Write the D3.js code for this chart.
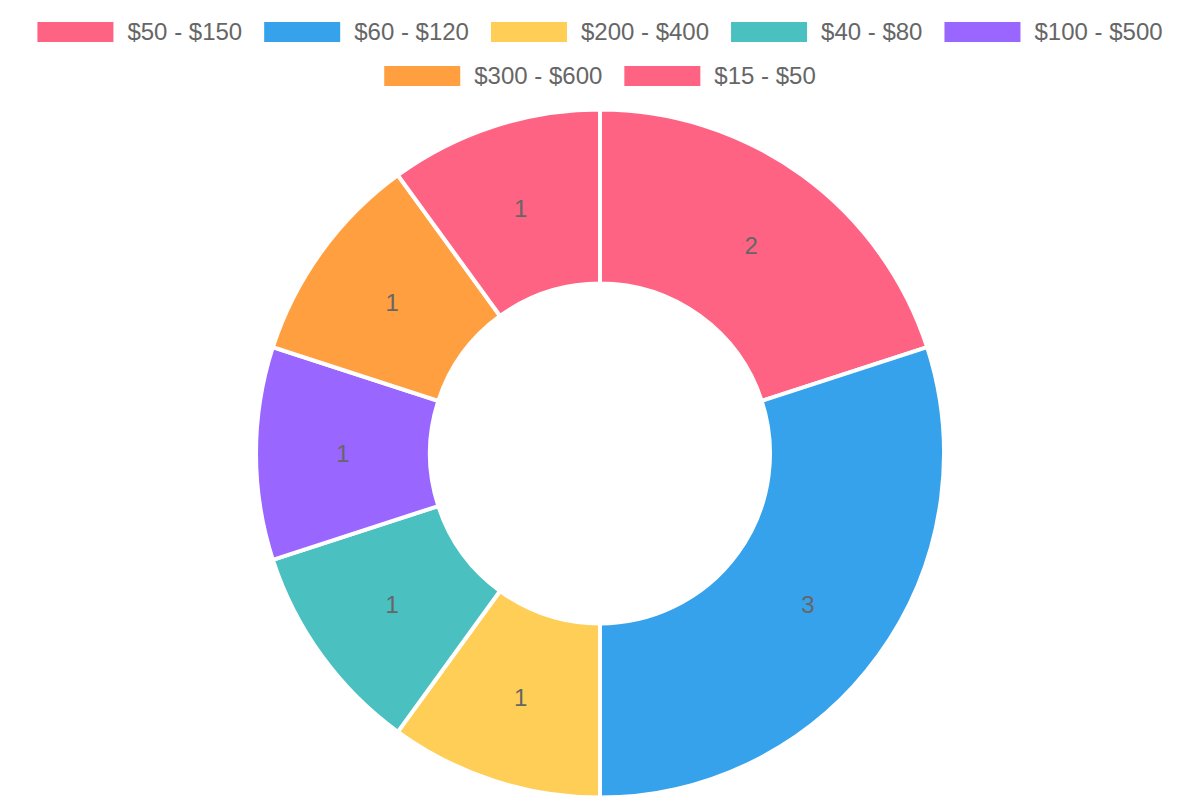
<!DOCTYPE html>
<html lang="en">
<head>
    <meta charset="UTF-8">
    <title>Doughnut</title>
    <style>
        body { margin: 0; padding: 0; background: #fff; }
        svg { display: block; font-family: "Liberation Sans", Arial, Helvetica, sans-serif; }
    </style>
</head>
<body>
    <div id="chart"></div>
    <script src="https://cdn.jsdelivr.net/npm/d3@7"></script>
    <script>
        // data
        const labels = ['$50 - $150', '$60 - $120', '$200 - $400', '$40 - $80', '$100 - $500', '$300 - $600', '$15 - $50'];
        const values = [2, 3, 1, 1, 1, 1, 1];
        const colors = ['#FF6384', '#36A2EB', '#FFCE56', '#4BC0C0', '#9966FF', '#FF9F40', '#FF6384'];

        const w = 1200;
        const h = 800;

        const svg = d3.select('#chart')
            .append('svg')
            .attr('width', w)
            .attr('height', h);

        // legend, wrapped in centred rows
        const boxW = 76, boxH = 20, boxGap = 14, itemGap = 22, rowH = 44, maxRow = 1180;
        const legend = svg.append('g');

        const items = legend.selectAll('g')
            .data(labels)
            .enter()
            .append('g');

        items.append('rect')
            .attr('width', boxW)
            .attr('height', boxH)
            .attr('fill', (d, i) => colors[i]);

        items.append('text')
            .attr('x', boxW + boxGap)
            .attr('y', boxH / 2)
            .attr('dy', '0.35em')
            .attr('font-size', 24)
            .attr('fill', '#666')
            .text(d => d);

        let rows = [[]];
        let rowWidth = 0;
        items.each(function (d, i) {
            const itemW = boxW + boxGap + this.querySelector('text').getComputedTextLength();
            const extra = rows[rows.length - 1].length ? itemGap : 0;
            if (rowWidth + extra + itemW > maxRow && rows[rows.length - 1].length) {
                rows.push([]);
                rowWidth = 0;
            }
            const cur = rows[rows.length - 1];
            rowWidth += (cur.length ? itemGap : 0) + itemW;
            cur.push({ node: this, width: itemW });
        });

        rows.forEach((row, r) => {
            const total = d3.sum(row, d => d.width) + itemGap * (row.length - 1);
            let x = (w - total) / 2;
            row.forEach(it => {
                d3.select(it.node).attr('transform', `translate(${x}, ${22 + r * rowH})`);
                x += it.width + itemGap;
            });
        });

        // doughnut
        const cx = 600, cy = 453.5;
        const outerR = 344, innerR = 170;

        const pie = d3.pie().sort(null).value(d => d);
        const arcs = pie(values);

        const arc = d3.arc().innerRadius(innerR).outerRadius(outerR);
        const labelArc = d3.arc().innerRadius((innerR + outerR) / 2).outerRadius((innerR + outerR) / 2);

        const g = svg.append('g').attr('transform', `translate(${cx}, ${cy})`);

        g.selectAll('path')
            .data(arcs)
            .enter()
            .append('path')
            .attr('d', arc)
            .attr('fill', (d, i) => colors[i])
            .attr('stroke', '#fff')
            .attr('stroke-width', 4)
            .attr('stroke-linejoin', 'miter');

        g.selectAll('text')
            .data(arcs)
            .enter()
            .append('text')
            .attr('transform', d => `translate(${labelArc.centroid(d)})`)
            .attr('text-anchor', 'middle')
            .attr('dy', '0.35em')
            .attr('font-size', 24)
            .attr('fill', '#666')
            .text(d => d.data);
    </script>
</body>
</html>
